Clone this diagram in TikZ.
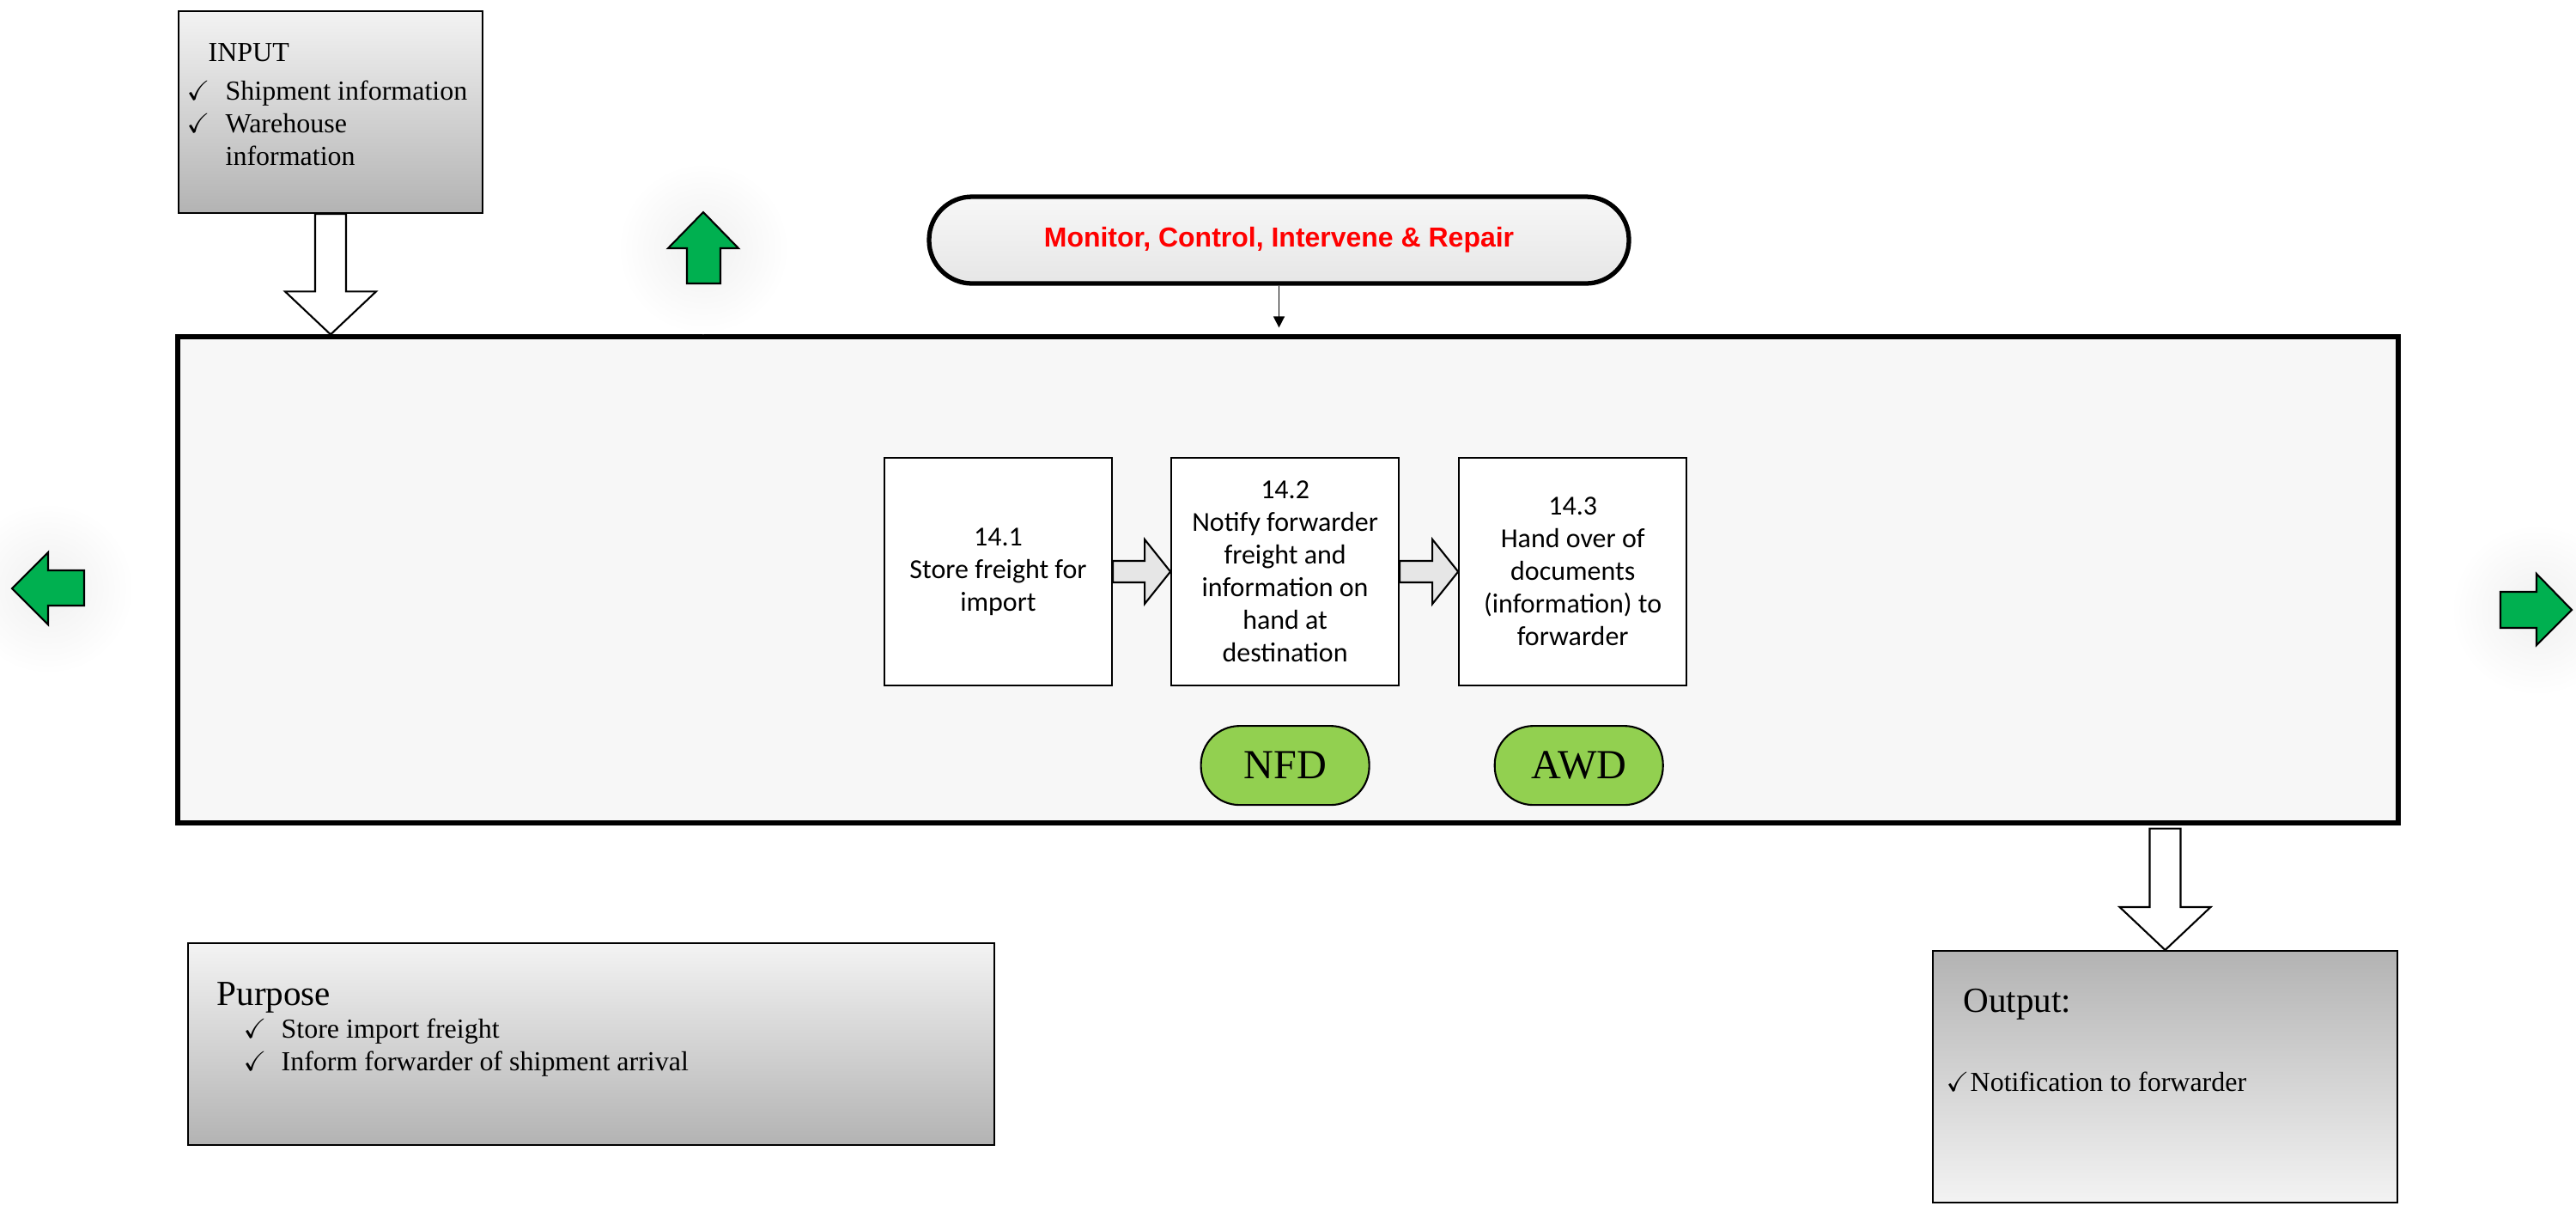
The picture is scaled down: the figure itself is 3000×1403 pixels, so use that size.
\documentclass[tikz,border=0pt]{standalone}
\usepackage{amsmath,amssymb}
\usepackage{fontspec}
\setmainfont{Liberation Serif}
\newfontfamily\calibrifont{Carlito}
\newfontfamily\arialfont{Liberation Sans}
\usetikzlibrary{shapes,arrows,arrows.meta,positioning,calc}

\definecolor{framefill}{HTML}{F7F7F7}
\definecolor{arrowgreen}{HTML}{00B050}
\definecolor{msggreen}{HTML}{92D050}
\definecolor{blockgray}{HTML}{E6E6E6}
\definecolor{shadelight}{HTML}{F3F3F3}
\definecolor{shadedark}{HTML}{B3B3B3}

\tikzset{
  frame/.style={draw, line width=1.5pt, fill=framefill, minimum width=258.6mm, minimum height=56.6mm},
  process/.style={draw, line width=0.6pt, fill=white, minimum width=26.5mm, minimum height=26.5mm,
    align=center, inner sep=0pt, font=\calibrifont\fontsize{9.1pt}{10.8pt}\selectfont},
  message/.style={draw, line width=0.6pt, fill=msggreen, rounded corners=4.5mm,
    minimum width=19.6mm, minimum height=9.2mm, font=\fontsize{13.7pt}{16pt}\selectfont},
  control/.style={draw, line width=1.5pt, rounded corners=5mm, top color=framefill, bottom color=blockgray,
    minimum width=81.5mm, minimum height=10.1mm, text=red, font=\arialfont\bfseries\fontsize{9.1pt}{11pt}\selectfont},
  infobox/.style={draw, line width=0.6pt, top color=shadelight, bottom color=shadedark},
  outbox/.style={draw, line width=0.6pt, top color=shadedark, bottom color=shadelight},
  listtext/.style={inner sep=0pt, anchor=base west, font=\fontsize{9.1pt}{10.8pt}\selectfont},
  greenarrow/.style={draw, line width=0.6pt, fill=arrowgreen},
  glow/.style={inner color=black!6, outer color=white},
  blockdown/.style={draw, line width=0.6pt, fill=white, to path={
    ($(\tikztostart)+(-18,0)$) -- ($(\tikztotarget)+(-18,-50)$) -- ($(\tikztotarget)+(-53,-50)$)
    -- (\tikztotarget) -- ($(\tikztotarget)+(53,-50)$) -- ($(\tikztotarget)+(18,-50)$)
    -- ($(\tikztostart)+(18,0)$) -- cycle}},
  blockright/.style={draw, line width=0.6pt, fill=blockgray, to path={
    ($(\tikztostart)+(0,-12.5)$) -- ($(\tikztotarget)+(-30,-12.5)$) -- ($(\tikztotarget)+(-30,-37.5)$)
    -- (\tikztotarget) -- ($(\tikztotarget)+(-30,37.5)$) -- ($(\tikztotarget)+(-30,12.5)$)
    -- ($(\tikztostart)+(0,12.5)$) -- cycle}}
}

\begin{document}
\begin{tikzpicture}[x=0.1mm, y=-0.1mm, node distance=6.7mm]
  \useasboundingbox (0,0) rectangle (3000,1403);

  % Process frame and sub-processes
  \node[frame] (main) at (1500,675) {};
  \node[process] (s1) at (1162.5,665.5) {14.1\\Store freight for\\import};
  \node[process] (s2) [right=of s1] {14.2\\Notify forwarder\\freight and\\information on\\hand at\\destination};
  \node[process] (s3) [right=6.8mm of s2] {14.3\\Hand over of\\documents\\(information) to\\forwarder};

  % Messages
  \node[message] (nfd) [below=4.5mm of s2] {NFD};
  \node[message] (awd) [right=14.4mm of nfd] {AWD};

  % Control
  \node[control] (ctrl) at (1489.5,279.5) {Monitor, Control, Intervene \& Repair};

  % Input, purpose and output boxes
  \node[infobox, minimum width=35.4mm, minimum height=23.5mm] (input) at (385,130.5) {};
  \node[listtext] (inputtext) at ($(input.north west)+(10,60)$) {%
    \begin{tabular}[t]{@{}p{4.5mm}@{}l@{}}
      \multicolumn{2}{@{\hspace{2.5mm}}l@{}}{INPUT}\\[0.7mm]
      $\checkmark$ & Shipment information\\
      $\checkmark$ & Warehouse\\
                   & information
    \end{tabular}};

  \node[infobox, minimum width=93.9mm, minimum height=23.5mm] (purpose) at (688.5,1215.5) {};
  \node[listtext] (purposetext) at ($(purpose.north west)+(34,74)$) {%
    \begin{tabular}[t]{@{}p{7.5mm}@{}l@{}}
      \multicolumn{2}{@{}l@{}}{\fontsize{11.7pt}{14pt}\selectfont Purpose}\\
      \hspace{3.1mm}$\checkmark$ & Store import freight\\
      \hspace{3.1mm}$\checkmark$ & Inform forwarder of shipment arrival
    \end{tabular}};

  \node[outbox, minimum width=54.1mm, minimum height=29.3mm] (output) at (2521.5,1253.5) {};
  \node[listtext] (outputtext) at ($(output.north west)+(16,73)$) {%
    \begin{tabular}[t]{@{}p{2.8mm}@{}l@{}}
      \multicolumn{2}{@{\hspace{2mm}}l@{}}{\fontsize{11.7pt}{14pt}\selectfont Output:}\\[5.4mm]
      $\checkmark$ & Notification to forwarder
    \end{tabular}};

  % Block arrows
  \coordinate (intip) at (input.south |- main.north);
  \coordinate (outtop) at ($(output.north |- main.south)+(0,4)$);
  \path[blockdown]
    (input.south) to (intip)
    (outtop) to (output.north);
  \path[blockright]
    (s1.east) to (s2.west)
    (s2.east) to (s3.west);
  \draw[-{Triangle[length=1.3mm,width=1.3mm]}, shorten >=0.8mm] (ctrl.south) -- (ctrl.south |- main.north);

  % Green arrows
  \shade[glow] (819,289) circle [radius=10mm];
  \shade[glow] (56,685) circle [radius=10mm];
  \shade[glow] (2954,710) circle [radius=10mm];
  \draw[greenarrow] (800,330) -- (800,289) -- (778,289) -- (819,247) -- (860,289) -- (839,289) -- (839,330) -- cycle;
  \draw[greenarrow] (98,664) -- (56,664) -- (56,643) -- (14,685) -- (56,727) -- (56,705) -- (98,705) -- cycle;
  \draw[greenarrow] (2912,689) -- (2954,689) -- (2954,668) -- (2995,710) -- (2954,751) -- (2954,731) -- (2912,731) -- cycle;
\end{tikzpicture}
\end{document}
